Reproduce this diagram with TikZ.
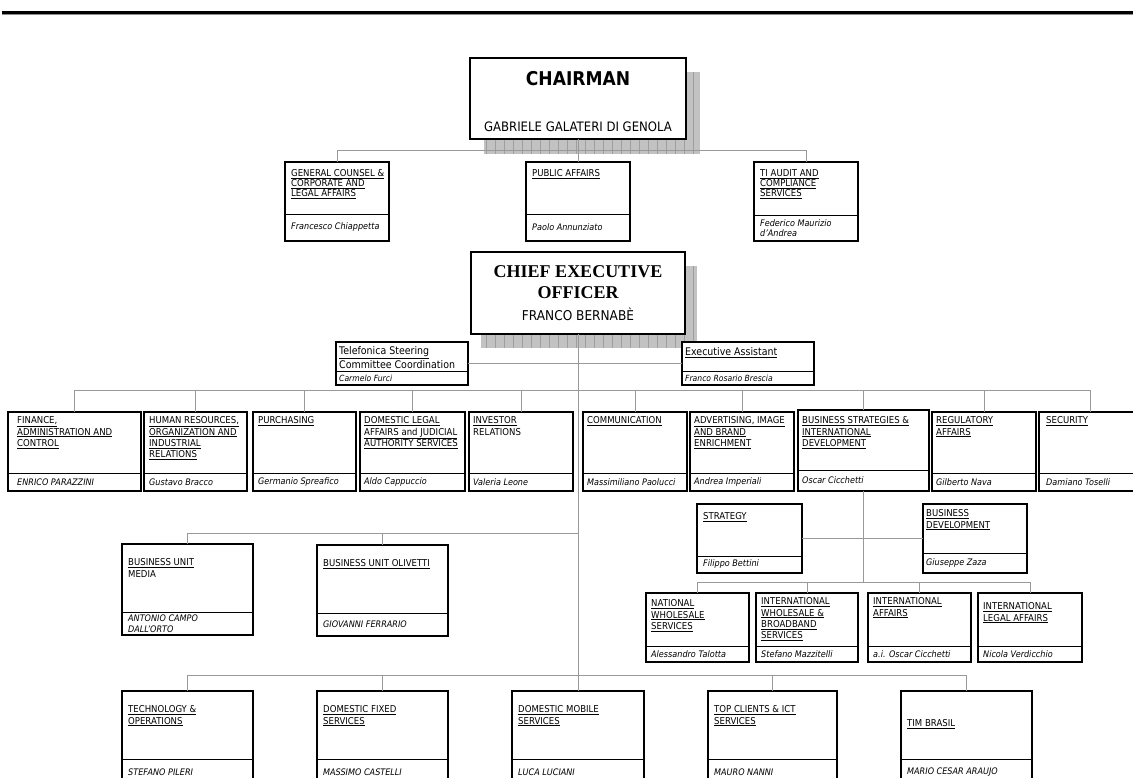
\documentclass[tikz,border=0pt]{standalone}
\usepackage{fontspec}
\setmainfont{DejaVu Sans}[FakeStretch=0.9]
\newfontfamily\ceofont{Liberation Serif}
\newcommand\uln[1]{\underline{#1}}
\newcommand\fs{\rule{0pt}{7pt}}
\def\tlead{11.3}
\def\tx{6}
\tikzset{
  obox/.style={draw=black, line width=2.2pt, fill=white, inner sep=0pt, outer sep=0pt},
  divl/.style={line width=0.9pt},
  conn/.style={draw=black!40, line width=0.9pt},
  ttl/.style={inner sep=0pt, anchor=north west, align=left, font=\fontsize{9.5}{\tlead}\selectfont},
  nm/.style={inner sep=0pt, anchor=west, align=left, font=\fontsize{9}{10.5}\selectfont\itshape},
  shad/.style={fill=black!24},
  shadgrid/.style={draw=black!38, line width=0.5pt},
}
\newcommand\obox[9]{%
  \node[obox, minimum width={#4-#2}, minimum height={#5-#3}, anchor=north west] (#1) at (#2,#3) {};
  \draw[divl] (#2,#6) -- (#4,#6);
  \node[ttl] (#1-t) at (#2+\tx,#3+#7-7) {\fs#8};
  \node[nm] (#1-n) at (#2+\tx,{(#6+#5)/2}) {#9};
}
\begin{document}
\begin{tikzpicture}[x=1pt,y=-1pt]
\useasboundingbox (0,0) rectangle (1133,778);
\fill[white] (0,0) rectangle (1133,778);
% top rule
\draw[line width=2.6pt] (2,12.5) -- (1133,12.5);
\draw[black!45, line width=1pt] (2,15) -- (1133,15);

% shadows
\fill[shad] (484,72) rectangle (700,154);
\draw[shadgrid, step=9] (484,72) grid (700,154);
\fill[shad] (481,266) rectangle (697,348);
\draw[shadgrid, step=9] (481,266) grid (697,348);

% chairman
\node[obox, minimum width=216, minimum height=81, anchor=north west] (ch) at (470,58) {};
\node[font=\bfseries\fontsize{19}{19}\selectfont] (ch-a) at (578,79) {CHAIRMAN};
\node[font=\fontsize{13}{13}\selectfont] (ch-b) at (578,127) {GABRIELE GALATERI DI GENOLA};

% row 2
\def\tlead{10}
\obox{gc}{285}{162}{389}{241}{214}{14.5}{\uln{GENERAL COUNSEL \&}\\\uln{CORPORATE AND}\\\uln{LEGAL AFFAIRS}}{Francesco Chiappetta}
\obox{pa}{526}{162}{630}{241}{214}{14.5}{\uln{PUBLIC AFFAIRS}}{Paolo Annunziato}
\obox{ti}{754}{162}{858}{241}{215}{14.5}{\uln{TI AUDIT AND}\\\uln{COMPLIANCE}\\\uln{SERVICES}}{Federico Maurizio\\d'Andrea}
\def\tlead{11.3}

% CEO
\node[obox, minimum width=214, minimum height=82, anchor=north west] (ceo) at (471,252) {};
\node[font=\ceofont\bfseries\fontsize{18}{18}\selectfont] (ceo-a) at (578,272) {CHIEF EXECUTIVE};
\node[font=\ceofont\bfseries\fontsize{18}{18}\selectfont] (ceo-b) at (578,293) {OFFICER};
\node[font=\fontsize{13.5}{14}\selectfont] (ceo-c) at (578,314) {FRANCO BERNAB\`E};

% staff boxes
\node[obox, minimum width=132, minimum height=43, anchor=north west] (tel) at (336,342) {};
\draw[divl] (336,371) -- (468,371);
\node[ttl, font=\fontsize{10.5}{14}\selectfont] (tel-t) at (339,346.5) {\rule{0pt}{8pt}\uln{Telefonica Steering}\\Committee Coordination};
\node[nm, font=\fontsize{8.5}{10}\selectfont\itshape] (tel-n) at (339,378) {Carmelo Furci};
\node[obox, minimum width=132, minimum height=43, anchor=north west] (ea) at (682,342) {};
\draw[divl] (682,371) -- (814,371);
\node[ttl, font=\fontsize{10.5}{14}\selectfont] (ea-t) at (685,347.5) {\rule{0pt}{8pt}\uln{Executive Assistant}};
\node[nm, font=\fontsize{8.5}{10}\selectfont\itshape] (ea-n) at (685,378) {Franco Rosario Brescia};

% row of direct reports
\def\tx{9}
\obox{fin}{8}{412}{141}{491}{473}{11.5}{\uln{FINANCE,}\\\uln{ADMINISTRATION AND}\\\uln{CONTROL}}{ENRICO PARAZZINI}
\def\tx{5}
\obox{hr}{144}{412}{247}{491}{473}{11.5}{\uln{HUMAN RESOURCES,}\\\uln{ORGANIZATION AND}\\\uln{INDUSTRIAL}\\\uln{RELATIONS}}{Gustavo Bracco}
\obox{pur}{253}{412}{356}{491}{473}{11.5}{\uln{PURCHASING}}{Germanio Spreafico}
\def\tx{4}
\obox{dl}{360}{412}{465}{491}{473}{11.5}{\uln{DOMESTIC LEGAL}\\\uln{AFFAIRS and JUDICIAL}\\\uln{AUTHORITY SERVICES}}{Aldo Cappuccio}
\obox{ir}{469}{412}{573}{491}{473}{11.5}{\uln{INVESTOR}\\RELATIONS}{Valeria Leone}
\obox{com}{583}{412}{687}{491}{473}{11.5}{\uln{COMMUNICATION}}{Massimiliano Paolucci}
\obox{adv}{690}{412}{794}{491}{473}{11.5}{\uln{ADVERTISING, IMAGE}\\\uln{AND BRAND}\\\uln{ENRICHMENT}}{Andrea Imperiali}
\obox{bs}{798}{410}{929}{491}{470}{13.5}{\uln{BUSINESS STRATEGIES \&}\\\uln{INTERNATIONAL}\\\uln{DEVELOPMENT}}{Oscar Cicchetti}
\obox{reg}{932}{412}{1036}{491}{473}{11.5}{\uln{REGULATORY}\\\uln{AFFAIRS}}{Gilberto Nava}
\def\tx{7}
\obox{sec}{1039}{412}{1141}{491}{473}{11.5}{\uln{SECURITY}}{Damiano Toselli}
\def\tx{6}

% business strategies subtree
\obox{strat}{697}{504}{802}{573}{556}{15.5}{\uln{STRATEGY}}{Filippo Bettini}
\def\tx{3}
\obox{bd}{923}{504}{1027}{573}{553}{12.5}{\uln{BUSINESS}\\\uln{DEVELOPMENT}}{Giuseppe Zaza}
\def\tx{5}
\obox{nws}{646}{593}{749}{662}{646}{13.5}{\uln{NATIONAL}\\\uln{WHOLESALE}\\\uln{SERVICES}}{Alessandro Talotta}
\obox{iwbs}{756}{593}{858}{662}{646}{11.5}{\uln{INTERNATIONAL}\\\uln{WHOLESALE \&}\\\uln{BROADBAND}\\\uln{SERVICES}}{Stefano Mazzitelli}
\obox{ia}{868}{593}{971}{662}{646}{11.5}{\uln{INTERNATIONAL}\\\uln{AFFAIRS}}{a.i. Oscar Cicchetti}
\obox{ila}{978}{593}{1082}{662}{646}{16.5}{\uln{INTERNATIONAL}\\\uln{LEGAL AFFAIRS}}{Nicola Verdicchio}
\def\tx{6}

% business units
\obox{bum}{122}{544}{253}{635}{612}{21.5}{\uln{BUSINESS UNIT}\\MEDIA}{ANTONIO CAMPO\\DALL'ORTO}
\obox{buo}{317}{545}{448}{636}{613}{21.5}{\uln{BUSINESS UNIT OLIVETTI}}{GIOVANNI FERRARIO}

% bottom row
\obox{tech}{122}{691}{253}{786}{759}{21.5}{\uln{TECHNOLOGY \&}\\\uln{OPERATIONS}}{STEFANO PILERI}
\obox{df}{317}{691}{448}{786}{759}{21.5}{\uln{DOMESTIC FIXED}\\\uln{SERVICES}}{MASSIMO CASTELLI}
\obox{dm}{512}{691}{644}{786}{759}{21.5}{\uln{DOMESTIC MOBILE}\\\uln{SERVICES}}{LUCA LUCIANI}
\obox{tc}{708}{691}{837}{786}{759}{21.5}{\uln{TOP CLIENTS \& ICT}\\\uln{SERVICES}}{MAURO NANNI}
\obox{tim}{901}{691}{1032}{786}{759}{35.5}{\uln{TIM BRASIL}}{MARIO CESAR ARAUJO}

% connectors
\draw[conn] (gc.north) -- ++(0,-12) -| (ti.north);
\draw[conn] (ch.south) -- (pa.north);
\draw[conn] (ceo.south) -- (dm.north);
\draw[conn] (tel.east) -- (ea.west);
\draw[conn] (fin.north) -- ++(0,-22) -| (sec.north);
\foreach \n in {hr,pur,dl,ir,com,adv,reg} \draw[conn] (\n.north) -- ++(0,-22);
\draw[conn] (bs.north) -- ++(0,-20);
\draw[conn] (bs.south) -- ++(0,91);
\draw[conn] (strat.east) -- (bd.west);
\draw[conn] (nws.north) -- ++(0,-11) -| (ila.north);
\draw[conn] (iwbs.north) -- ++(0,-11);
\draw[conn] (ia.north) -- ++(0,-11);
\draw[conn] (bum.north) -- ++(0,-11) coordinate (bj) -- (bj -| ceo.south);
\draw[conn] (buo.north) -- ++(0,-12);
\draw[conn] (tech.north) -- ++(0,-16) -| (tim.north);
\draw[conn] (df.north) -- ++(0,-16);
\draw[conn] (tc.north) -- ++(0,-16);
\end{tikzpicture}
\end{document}
